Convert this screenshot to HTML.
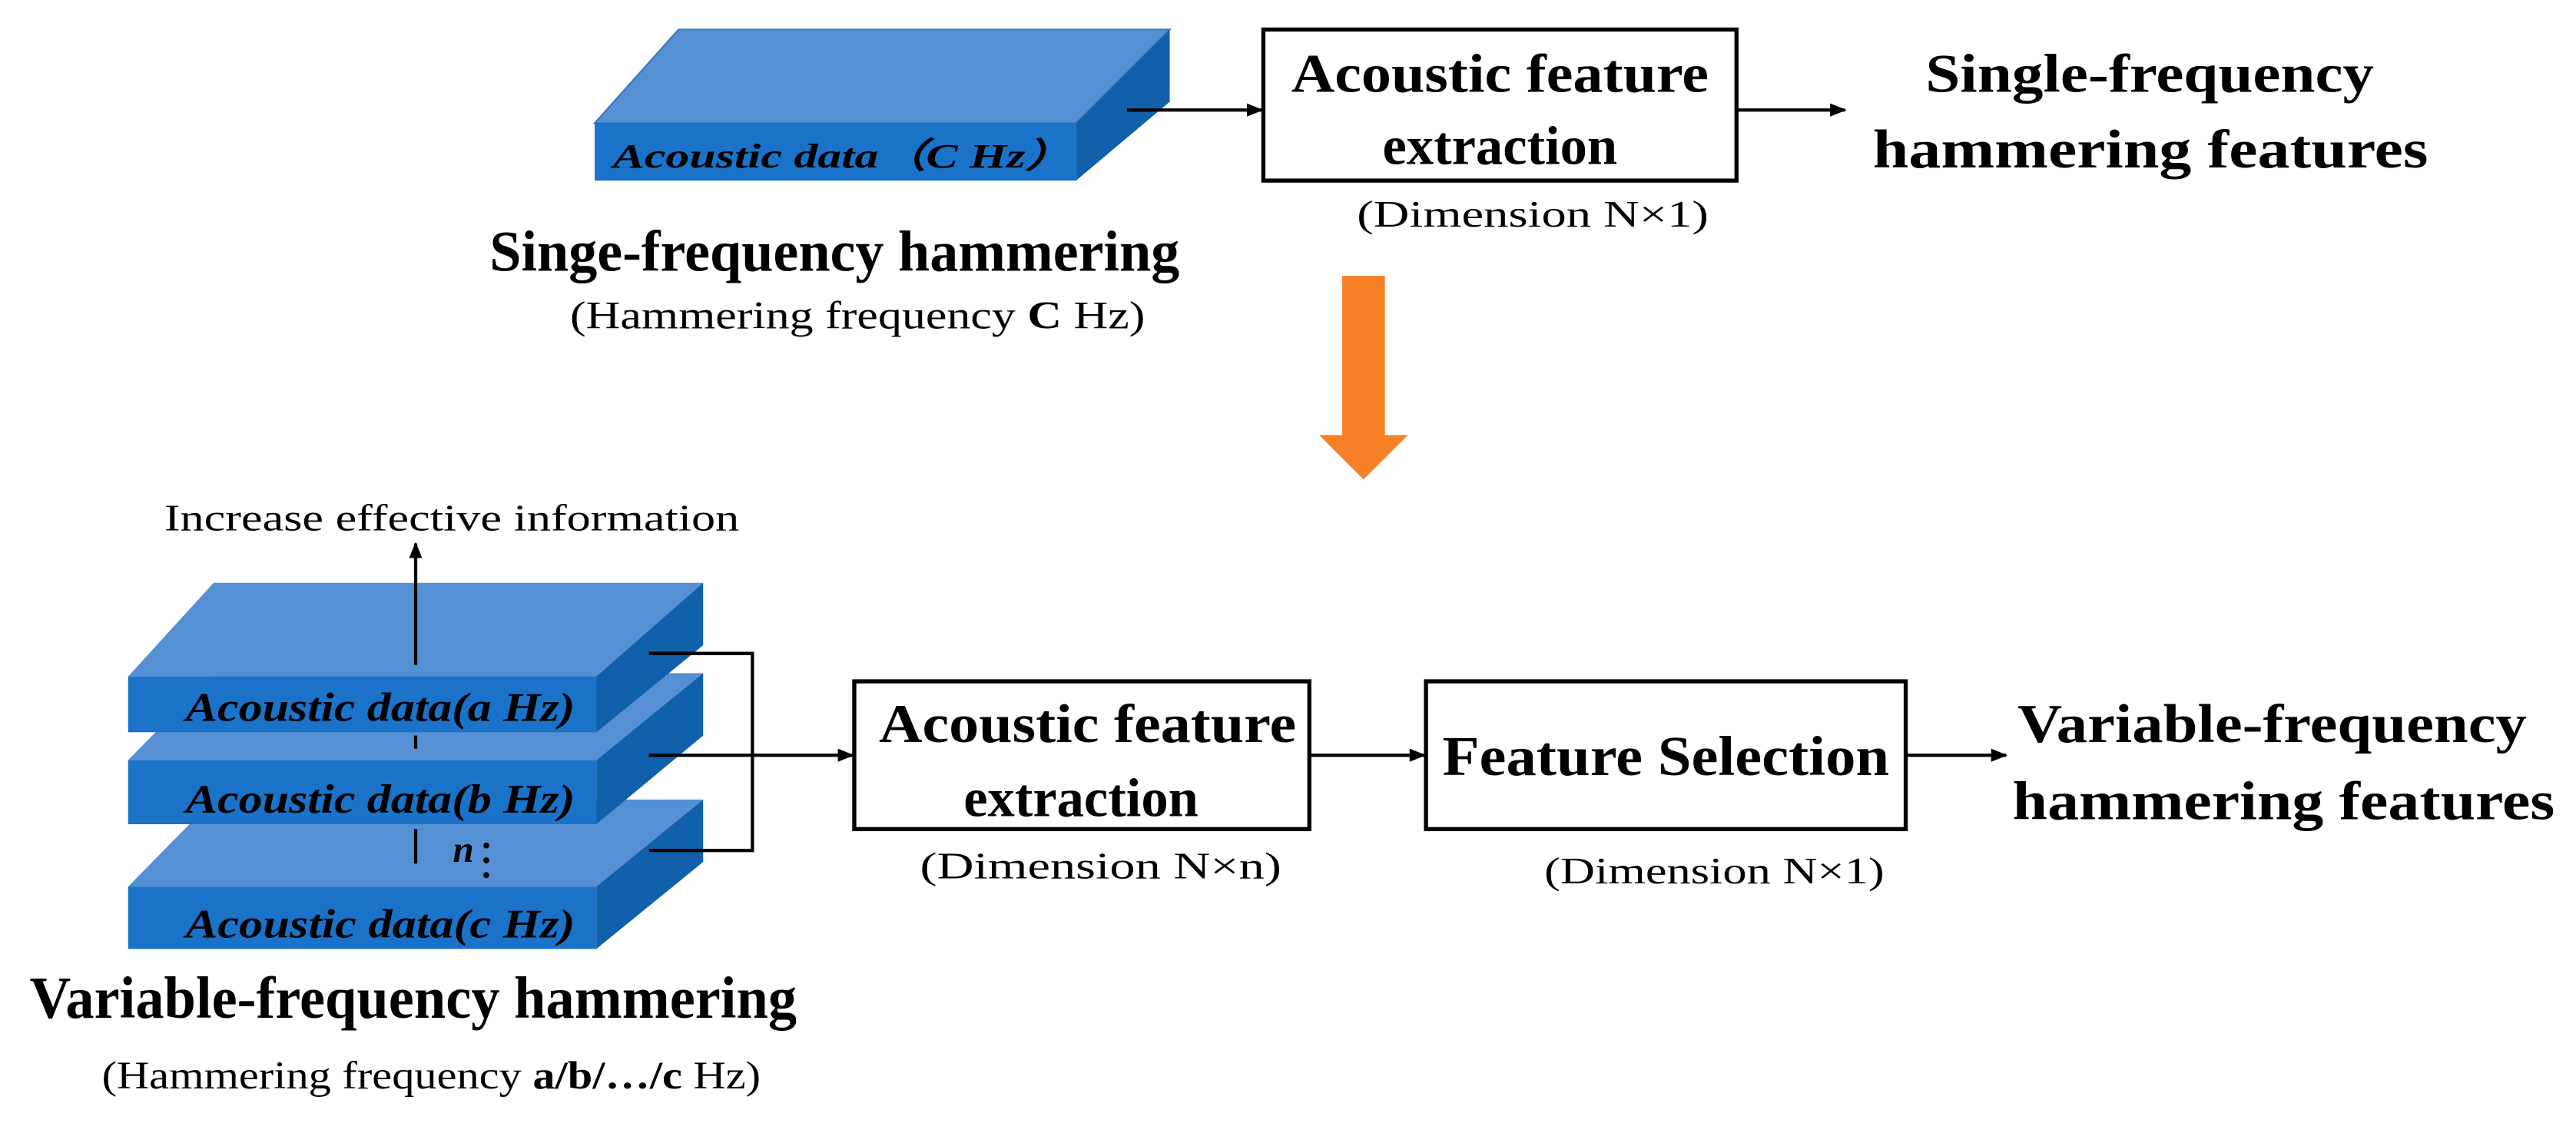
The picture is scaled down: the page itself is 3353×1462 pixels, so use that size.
<!DOCTYPE html>
<html><head><meta charset="utf-8"><style>html,body{margin:0;padding:0;background:#fff}svg{display:block}</style></head>
<body>
<svg width="3353" height="1462" viewBox="0 0 1568 684" preserveAspectRatio="none" xmlns="http://www.w3.org/2000/svg" font-family="'Liberation Serif', serif">
<defs>
<marker id="ah" markerWidth="10" markerHeight="8" refX="9" refY="4" orient="auto" markerUnits="userSpaceOnUse"><path d="M0,0 L10,4 L0,8 z" fill="#000"/></marker>
</defs>
<!-- top slab -->
<polygon points="413,18 712,18 655,75 362,75" fill="#5590d4" stroke="#3a78c0" stroke-width="1"/>
<polygon points="712,18 712,62 655,110 655,75" fill="#1060ab"/>
<rect x="362" y="75" width="293" height="35" fill="#1a72c9"/>
<text x="373" y="102" font-size="21" font-weight="bold" font-style="italic" textLength="280" lengthAdjust="spacingAndGlyphs">Acoustic data（C Hz）</text>
<line x1="686" y1="67" x2="768" y2="67" stroke="#000" stroke-width="2" marker-end="url(#ah)"/>
<rect x="769" y="18" width="288" height="92" fill="#fff" stroke="#000" stroke-width="2.5"/>
<text x="786" y="56" font-size="33" font-weight="bold" textLength="254" lengthAdjust="spacingAndGlyphs">Acoustic feature</text>
<text x="913" y="100" font-size="33" font-weight="bold" text-anchor="middle">extraction</text>
<text x="826" y="138" font-size="23" textLength="214" lengthAdjust="spacingAndGlyphs">(Dimension N×1)</text>
<line x1="1057" y1="67" x2="1123" y2="67" stroke="#000" stroke-width="2" marker-end="url(#ah)"/>
<text x="1172" y="56" font-size="33" font-weight="bold" textLength="273" lengthAdjust="spacingAndGlyphs">Single-frequency</text>
<text x="1140" y="102" font-size="33" font-weight="bold" textLength="338" lengthAdjust="spacingAndGlyphs">hammering features</text>
<text x="298" y="165" font-size="35" font-weight="bold" textLength="420" lengthAdjust="spacingAndGlyphs">Singe-frequency hammering</text>
<text x="347" y="200" font-size="24" textLength="350" lengthAdjust="spacingAndGlyphs">(Hammering frequency <tspan font-weight="bold">C</tspan> Hz)</text>
<!-- orange arrow -->
<polygon points="817,168 843,168 843,265 857,265 830,292 803,265 817,265" fill="#f58025"/>
<!-- bottom -->
<text x="100" y="323" font-size="23" textLength="350" lengthAdjust="spacingAndGlyphs">Increase effective information</text>
<!-- slab c -->
<polygon points="130,487 428,487 363,540 78,540" fill="#5590d4"/>
<polygon points="428,487 428,525 363,578 363,540" fill="#1060ab"/>
<rect x="78" y="540" width="285" height="38" fill="#1a72c9"/>
<text x="113" y="571" font-size="25" font-weight="bold" font-style="italic" textLength="237" lengthAdjust="spacingAndGlyphs">Acoustic data(c Hz)</text>
<!-- slab b -->
<polygon points="130,410 428,410 363,463 78,463" fill="#5590d4"/>
<polygon points="428,410 428,448 363,502 363,463" fill="#1060ab"/>
<rect x="78" y="463" width="285" height="39" fill="#1a72c9"/>
<text x="113" y="495" font-size="25" font-weight="bold" font-style="italic" textLength="237" lengthAdjust="spacingAndGlyphs">Acoustic data(b Hz)</text>
<!-- slab a -->
<polygon points="130,355 428,355 363,412 78,412" fill="#5590d4"/>
<polygon points="428,355 428,393 363,446 363,412" fill="#1060ab"/>
<rect x="78" y="412" width="285" height="34" fill="#1a72c9"/>
<text x="113" y="439" font-size="25" font-weight="bold" font-style="italic" textLength="237" lengthAdjust="spacingAndGlyphs">Acoustic data(a Hz)</text>
<line x1="253" y1="405" x2="253" y2="331" stroke="#000" stroke-width="2" marker-end="url(#ah)"/>
<line x1="253" y1="448" x2="253" y2="456" stroke="#000" stroke-width="2"/>
<line x1="253" y1="505" x2="253" y2="526" stroke="#000" stroke-width="2"/>
<text x="282" y="525" font-size="23" font-weight="bold" font-style="italic" text-anchor="middle">n</text>
<circle cx="296" cy="515" r="1.8" fill="#000"/><circle cx="296" cy="524" r="1.8" fill="#000"/><circle cx="296" cy="533" r="1.8" fill="#000"/>
<polyline points="395,398 458,398 458,518 395,518" fill="none" stroke="#000" stroke-width="2"/>
<line x1="395" y1="460" x2="519" y2="460" stroke="#000" stroke-width="2" marker-end="url(#ah)"/>
<rect x="520" y="415" width="277" height="90" fill="#fff" stroke="#000" stroke-width="2.5"/>
<text x="535" y="452" font-size="33" font-weight="bold" textLength="254" lengthAdjust="spacingAndGlyphs">Acoustic feature</text>
<text x="658" y="497" font-size="33" font-weight="bold" text-anchor="middle">extraction</text>
<text x="560" y="535" font-size="23" textLength="220" lengthAdjust="spacingAndGlyphs">(Dimension N×n)</text>
<line x1="797" y1="460" x2="867" y2="460" stroke="#000" stroke-width="2" marker-end="url(#ah)"/>
<rect x="868" y="415" width="292" height="90" fill="#fff" stroke="#000" stroke-width="2.5"/>
<text x="878" y="472" font-size="34" font-weight="bold" textLength="272" lengthAdjust="spacingAndGlyphs">Feature Selection</text>
<text x="940" y="538" font-size="23" textLength="207" lengthAdjust="spacingAndGlyphs">(Dimension N×1)</text>
<line x1="1160" y1="460" x2="1221" y2="460" stroke="#000" stroke-width="2" marker-end="url(#ah)"/>
<text x="1228" y="452" font-size="33" font-weight="bold" textLength="310" lengthAdjust="spacingAndGlyphs">Variable-frequency</text>
<text x="1225" y="499" font-size="33" font-weight="bold" textLength="330" lengthAdjust="spacingAndGlyphs">hammering features</text>
<text x="18" y="620" font-size="36" font-weight="bold" textLength="467" lengthAdjust="spacingAndGlyphs">Variable-frequency hammering</text>
<text x="62" y="663" font-size="24" textLength="401" lengthAdjust="spacingAndGlyphs">(Hammering frequency <tspan font-weight="bold">a/b/…/c</tspan> Hz)</text>
</svg>
</body></html>
